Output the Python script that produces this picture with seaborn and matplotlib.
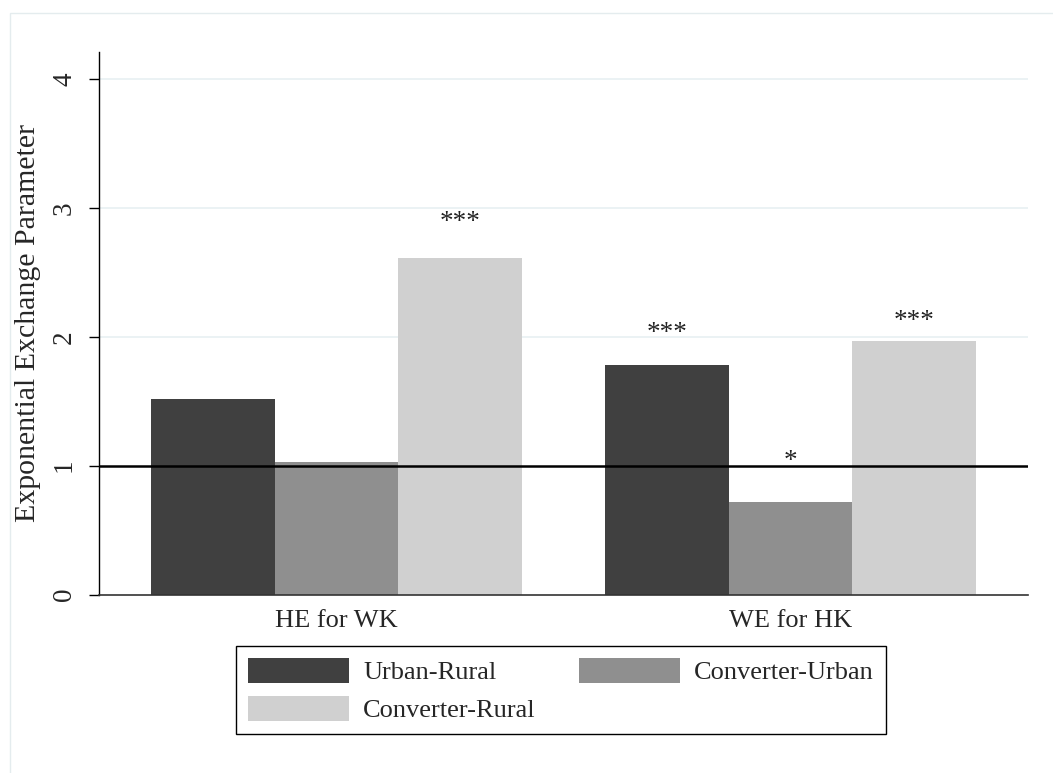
import numpy as np
import pandas as pd
import matplotlib
matplotlib.use("Agg")
import matplotlib.pyplot as plt
from matplotlib.patches import Rectangle
import seaborn as sns

# -----------------------------------------------------------------------------
# datos
# -----------------------------------------------------------------------------
grupos = ["HE for WK", "WE for HK"]
series = ["Urban-Rural", "Converter-Urban", "Converter-Rural"]
urban_rural = [1.52, 1.78]
converter_urban = [1.03, 0.72]
converter_rural = [2.61, 1.97]

# estrellas de significancia (texto y altura de la linea base)
estrellas_ur = ["", "***"]
estrellas_cu = ["", "*"]
estrellas_cr = ["***", "***"]
altura_ur = [np.nan, 1.975]
altura_cu = [np.nan, 0.982]
altura_cr = [2.835, 2.067]

colores = ["#404040", "#8f8f8f", "#d0d0d0"]

df = pd.DataFrame({
    "grupo": grupos * 3,
    "serie": np.repeat(series, len(grupos)),
    "valor": urban_rural + converter_urban + converter_rural,
})

# -----------------------------------------------------------------------------
# estilo
# -----------------------------------------------------------------------------
sns.set_theme(style="white")
plt.rcParams["font.family"] = ["Liberation Serif", "DejaVu Serif"]

W, H = 1053, 773
fig = plt.figure(figsize=(W / 100, H / 100), dpi=100)
fig.patch.set_facecolor("white")
ax = fig.add_axes([99 / W, 1 - 594.5 / H, 929 / W, 542.5 / H])

sns.barplot(data=df, x="grupo", y="valor", hue="serie", hue_order=series,
            palette=colores, saturation=1, width=0.817, gap=0,
            linewidth=0, ax=ax, zorder=2)

ax.set_xlim(-0.523, 1.523)
ax.set_ylim(0, 4.21)
ax.set_yticks([0, 1, 2, 3, 4])

# rejilla y linea de referencia
for y in [2, 3, 4]:
    ax.axhline(y, color="#e8f0f2", lw=1.2, zorder=0)
ax.axhline(1, color="black", lw=1.8, zorder=3)

# estrellas sobre las barras
for cont, textos, alturas in zip(ax.containers,
                                 [estrellas_ur, estrellas_cu, estrellas_cr],
                                 [altura_ur, altura_cu, altura_cr]):
    for barra, txt, h in zip(cont, textos, alturas):
        if txt:
            xc = barra.get_x() + barra.get_width() / 2
            ax.text(xc, h, txt, ha="center", va="baseline", fontsize=19.5,
                    color="#222222", zorder=4)

# ejes
for lado in ["top", "right"]:
    ax.spines[lado].set_visible(False)
ax.spines["left"].set_color("black")
ax.spines["left"].set_linewidth(1.0)
ax.spines["bottom"].set_color("#333333")
ax.spines["bottom"].set_linewidth(1.2)

ax.tick_params(axis="y", which="major", direction="out", length=7.2, width=1,
               color="black", pad=8.6, labelsize=19.5, left=True)
ax.tick_params(axis="x", length=0, pad=11, labelsize=19)
for lab in ax.get_yticklabels():
    lab.set_rotation(90)
    lab.set_va("center")

ax.set_xlabel("")
ax.set_ylabel("Exponential Exchange Parameter", fontsize=21.5)
ax.yaxis.set_label_coords((28 - 99) / 929, 0.5)
ax.yaxis.label.set_va("center")

# leyenda estilo Stata
handles, labels = ax.get_legend_handles_labels()
ax.get_legend().remove()
orden = [0, 2, 1]
fig.legend([handles[i] for i in orden], [labels[i] for i in orden],
           loc="upper center", bbox_to_anchor=(561 / W, 1 - 646 / H),
           ncol=2, fontsize=19, frameon=True, fancybox=False,
           edgecolor="black", framealpha=1, borderaxespad=0,
           handlelength=3.83, handleheight=1.06, handletextpad=0.53,
           columnspacing=1.63, labelspacing=0.45, borderpad=0.45)
fig.legends[0].get_frame().set_linewidth(1.0)

# marco exterior claro
fig.patches.append(Rectangle((10 / W, -0.1), 1.2, (1 - 13 / H) + 0.1,
                             transform=fig.transFigure, fill=False,
                             edgecolor="#e4ecee", lw=1.0))

fig.savefig("out.png", dpi=100)
